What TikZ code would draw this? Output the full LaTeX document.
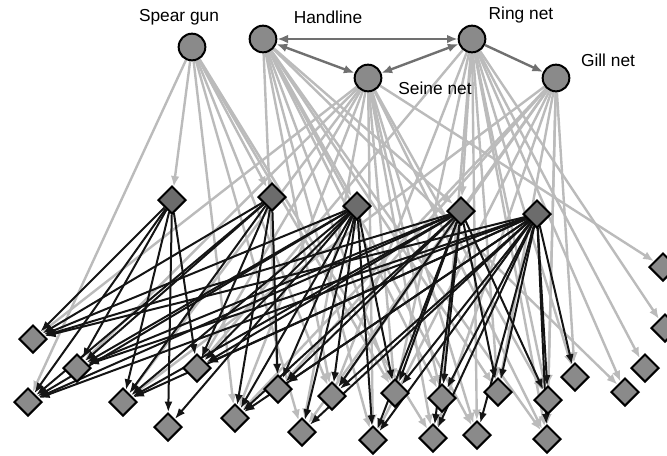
\documentclass[tikz,border=0pt]{standalone}
\usepackage{fontspec}
\setmainfont{Liberation Sans}
\usetikzlibrary{arrows.meta,shapes.geometric}

\definecolor{edgegray}{HTML}{BBBBBB}
\definecolor{geargray}{HTML}{707070}
\definecolor{nodegray}{HTML}{8A8A8A}
\definecolor{midgray}{HTML}{6C6C6C}
\pgfdeclarelayer{bg}
\pgfsetlayers{bg,main}

\begin{document}
\begin{tikzpicture}[x=0.75pt, y=-0.75pt,
  gear/.style={circle, draw=black, line width=1.5pt, fill=nodegray, minimum size=20pt, inner sep=0pt},
  species/.style={diamond, draw=black, line width=1.5pt, fill=nodegray, minimum size=21pt, inner sep=0pt},
  upper/.style={species, fill=midgray},
  lbl/.style={font=\fontsize{13}{15}\selectfont, inner sep=0pt},
  gearlink/.style={geargray, line width=1.8pt, -{Latex[length=8pt,width=6.5pt]}},
  catch/.style={edgegray, line width=1.8pt, -{Latex[length=8pt,width=6.5pt]}},
  eats/.style={black!92, line width=1.5pt, -{Latex[length=8pt,width=6pt]}}]
\useasboundingbox (0,0) rectangle (667,455);

% fishing gears
\node[gear] (sg) at (192,47) {};
\node[gear] (hl) at (263,39) {};
\node[gear] (sn) at (368,78) {};
\node[gear] (rn) at (472,39) {};
\node[gear] (gn) at (556,78) {};
\node[lbl] (sglbl) at (179,17) {Spear gun};
\node[lbl] (hllbl) at (328,17) {Handline};
\node[lbl] (rnlbl) at (521,15) {Ring net};
\node[lbl] (snlbl) at (435,88) {Seine net};
\node[lbl] (gnlbl) at (608,60) {Gill net};

% upper species
\node[upper] (m1) at (172,200) {};
\node[upper] (m2) at (272,197) {};
\node[upper] (m3) at (357,206) {};
\node[upper] (m4) at (461,211) {};
\node[upper] (m5) at (537,214) {};

% lower species
\node[species] (b1) at (33,339) {};
\node[species] (b2) at (77,368) {};
\node[species] (b3) at (28,402) {};
\node[species] (b4) at (123,402) {};
\node[species] (b5) at (168,427) {};
\node[species] (b6) at (197,368) {};
\node[species] (b7) at (235,418) {};
\node[species] (b8) at (278,389) {};
\node[species] (b9) at (302,432) {};
\node[species] (b10) at (332,396) {};
\node[species] (b11) at (373,440) {};
\node[species] (b12) at (395,393) {};
\node[species] (b13) at (433,438) {};
\node[species] (b14) at (442,398) {};
\node[species] (b15) at (477,435) {};
\node[species] (b16) at (498,392) {};
\node[species] (b17) at (547,439) {};
\node[species] (b18) at (548,400) {};
\node[species] (b19) at (575,377) {};
\node[species] (b20) at (625,392) {};
\node[species] (b21) at (645,368) {};
\node[species] (b22) at (663,267) {};
\node[species] (b23) at (665,328) {};

\begin{pgfonlayer}{bg}
% catches
\foreach \t in {m1,m2,b3,b7,b9,b10,b12,b13}
  \draw[catch] (sg) -- (\t);
\foreach \t in {m3,m4,b8,b10,b11,b12,b14,b15,b16,b17,b20}
  \draw[catch] (hl) -- (\t);
\foreach \t in {b1,b2,b4,b6,b7,b9,b11,b12,b13,b14,b15,b17,b18,b22}
  \draw[catch] (sn) -- (\t);
\foreach \t in {b6,m4,b10,b12,b14,b15,b16,b17,b18,b19,b20,b21,b23}
  \draw[catch] (rn) -- (\t);
\foreach \t in {b4,b7,b8,b9,b10,b11,b13,b16,b17,b18,b19}
  \draw[catch] (gn) -- (\t);
% feeding links
\foreach \t in {b1,b2,b3,b4,b5,b6}
  \draw[eats] (m1) -- (\t);
\foreach \t in {b1,b2,b3,b4,b6,b7,b8}
  \draw[eats] (m2) -- (\t);
\foreach \t in {b1,b2,b3,b4,b5,b6,b7,b8,b9,b10,b11,b12}
  \draw[eats] (m3) -- (\t);
\foreach \t in {b1,b2,b3,b4,b6,b7,b8,b10,b11,b12,b13,b14,b16,b18}
  \draw[eats] (m4) -- (\t);
\foreach \t in {b1,b2,b3,b4,b6,b7,b8,b9,b10,b11,b12,b13,b14,b15,b16,b17,b18,b19}
  \draw[eats] (m5) -- (\t);
\end{pgfonlayer}

% links between gears
\draw[gearlink, {Latex[length=8pt,width=6.5pt]}-{Latex[length=8pt,width=6.5pt]}] (hl) -- (rn);
\draw[gearlink, {Latex[length=8pt,width=6.5pt]}-{Latex[length=8pt,width=6.5pt]}] (hl) -- (sn);
\draw[gearlink, {Latex[length=8pt,width=6.5pt]}-{Latex[length=8pt,width=6.5pt]}] (sn) -- (rn);
\draw[gearlink] (rn) -- (gn);
\end{tikzpicture}
\end{document}
